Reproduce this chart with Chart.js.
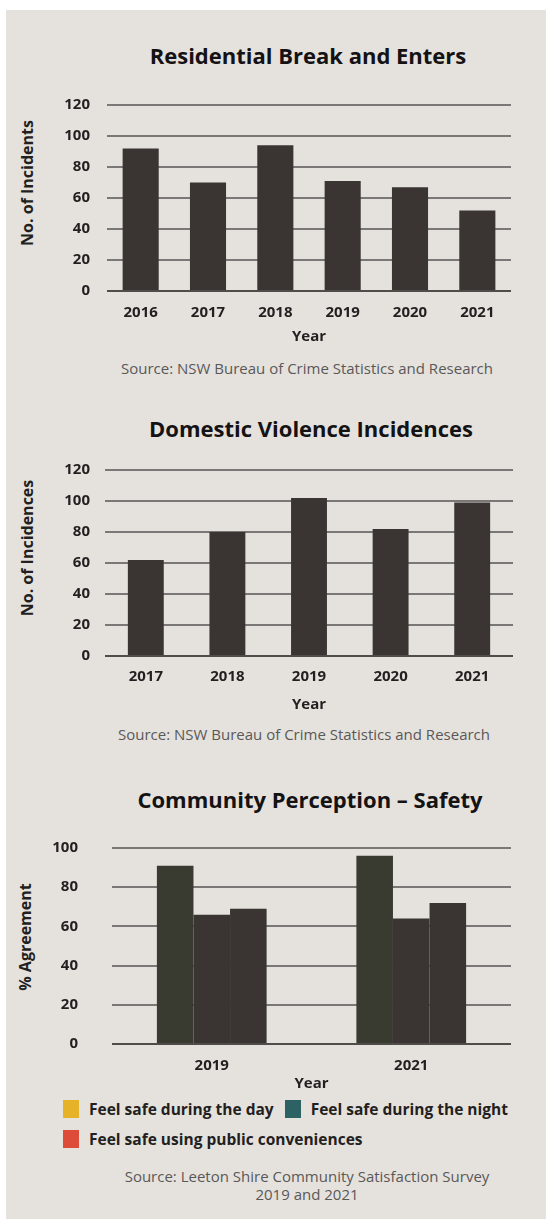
<!DOCTYPE html>
<html>
<head>
<meta charset="utf-8">
<script src="https://cdn.jsdelivr.net/npm/chart.js@4"></script>
<style>
  body { margin: 0; background: #fff; font-family: 'Open Sans', sans-serif; color: #231f20; }
  #panel { position: absolute; left: 6px; top: 10px; width: 540px; height: 1209px; background: #e5e2de; }
  canvas { position: absolute; left: 0; }
  .heading { position: absolute; transform: translateX(-50%); white-space: nowrap; font-weight: 700; font-size: 22px; line-height: 26px; color: #141213; }
  .ytitle { position: absolute; transform: translate(-50%, -50%) rotate(-90deg); white-space: nowrap; font-weight: 700; font-size: 16px; line-height: 18px; }
  .source { position: absolute; transform: translateX(-50%); white-space: nowrap; text-align: center; font-size: 15px; line-height: 18px; color: #5a5857; }
  #legend { position: absolute; left: 63px; top: 1100px; width: 460px; display: flex; flex-wrap: wrap; column-gap: 11px; row-gap: 12px; }
  .item { display: flex; align-items: center; height: 18px; font-weight: 700; font-size: 15.5px; }
  .swatch { width: 16px; height: 18px; margin-right: 10px; }
</style>
</head>
<body>
<div id="panel"></div>

<div class="heading" style="left:308px; top:42px">Residential Break and Enters</div>
<div class="ytitle" style="left:27px; top:183px">No. of Incidents</div>
<canvas id="breakins" width="546" height="260" style="top:90px"></canvas>
<div class="source" style="left:307px; top:359px">Source: NSW Bureau of Crime Statistics and Research</div>

<div class="heading" style="left:311px; top:415px">Domestic Violence Incidences</div>
<div class="ytitle" style="left:27px; top:548px">No. of Incidences</div>
<canvas id="domestic" width="546" height="260" style="top:455px"></canvas>
<div class="source" style="left:304px; top:725px">Source: NSW Bureau of Crime Statistics and Research</div>

<div class="heading" style="left:310px; top:786px">Community Perception – Safety</div>
<div class="ytitle" style="left:25px; top:937px">% Agreement</div>
<canvas id="safety" width="546" height="264" style="top:830px"></canvas>
<div id="legend"></div>
<div class="source" style="left:307px; top:1167px">Source: Leeton Shire Community Satisfaction Survey<br>2019 and 2021</div>

<script>
// residential break and enters
const breakYears = ['2016', '2017', '2018', '2019', '2020', '2021'];
const breakCounts = [92, 70, 94, 71, 67, 52];

// domestic violence
const dvYears = ['2017', '2018', '2019', '2020', '2021'];
const dvCounts = [62, 80, 102, 82, 99];

// community survey
const surveyYears = ['2019', '2021'];
const safeDay = [91, 96];
const safeNight = [66, 64];
const safePublic = [69, 72];
const surveyLabels = ['Feel safe during the day', 'Feel safe during the night', 'Feel safe using public conveniences'];
const legendColors = ['#e6b228', '#2c6263', '#dc4c38'];

const barColor = '#3a3532';
const dayBarColor = '#393a30';
const textColor = '#231f20';

Chart.defaults.font.family = "'Open Sans', sans-serif";
Chart.defaults.color = textColor;

function gridColor(ctx) {
  return ctx.tick && ctx.tick.value === 0 ? '#4f4c4a' : '#7a7876';
}

// shared axis setup; the y tick gap comes from an invisible tick mark so it
// doesn't push the plot area down
function makeOptions(cfg) {
  return {
    responsive: false,
    animation: false,
    layout: { padding: { top: cfg.top, right: cfg.right, left: 0, bottom: 0 } },
    plugins: { legend: { display: false }, tooltip: { enabled: false } },
    scales: {
      x: {
        grid: { display: false, drawTicks: false },
        border: { display: false },
        ticks: { padding: cfg.xPad, font: { size: 15, weight: 'bold' }, color: textColor },
        title: { display: true, text: 'Year', font: { size: 15, weight: 'bold' }, padding: { top: 0, bottom: cfg.yearPad }, color: textColor },
        afterFit: s => { s.height = cfg.xHeight; }
      },
      y: {
        min: 0,
        max: cfg.max,
        ticks: { stepSize: 20, padding: 0, font: { size: 15, weight: 'bold' }, color: textColor },
        grid: { color: gridColor, lineWidth: 2, drawTicks: true, tickLength: cfg.yGap, tickColor: 'rgba(0,0,0,0)' },
        border: { display: false },
        afterFit: s => { s.width = cfg.yWidth; }
      }
    }
  };
}

new Chart(document.getElementById('breakins'), {
  type: 'bar',
  data: {
    labels: breakYears,
    datasets: [{ data: breakCounts, backgroundColor: barColor, categoryPercentage: 0.8, barPercentage: 0.67 }]
  },
  options: makeOptions({ top: 15, right: 35, max: 120, xPad: 13, yearPad: 4, xHeight: 59, yGap: 17, yWidth: 107 })
});

new Chart(document.getElementById('domestic'), {
  type: 'bar',
  data: {
    labels: dvYears,
    datasets: [{ data: dvCounts, backgroundColor: barColor, categoryPercentage: 0.8, barPercentage: 0.55 }]
  },
  options: makeOptions({ top: 15, right: 33, max: 120, xPad: 12, yearPad: 1, xHeight: 59, yGap: 15, yWidth: 105 })
});

new Chart(document.getElementById('safety'), {
  type: 'bar',
  data: {
    labels: surveyYears,
    datasets: [
      { label: surveyLabels[0], data: safeDay, backgroundColor: dayBarColor },
      { label: surveyLabels[1], data: safeNight, backgroundColor: barColor },
      { label: surveyLabels[2], data: safePublic, backgroundColor: barColor }
    ].map(d => Object.assign(d, { categoryPercentage: 0.55, barPercentage: 1 }))
  },
  options: makeOptions({ top: 18, right: 35, max: 100, xPad: 13, yearPad: 1, xHeight: 50, yGap: 34, yWidth: 112 })
});

// legend below the survey chart
const legend = document.getElementById('legend');
surveyLabels.forEach((label, i) => {
  const item = document.createElement('div');
  item.className = 'item';
  item.innerHTML = '<span class="swatch" style="background:' + legendColors[i] + '"></span>' + label;
  legend.appendChild(item);
});
</script>
</body>
</html>
